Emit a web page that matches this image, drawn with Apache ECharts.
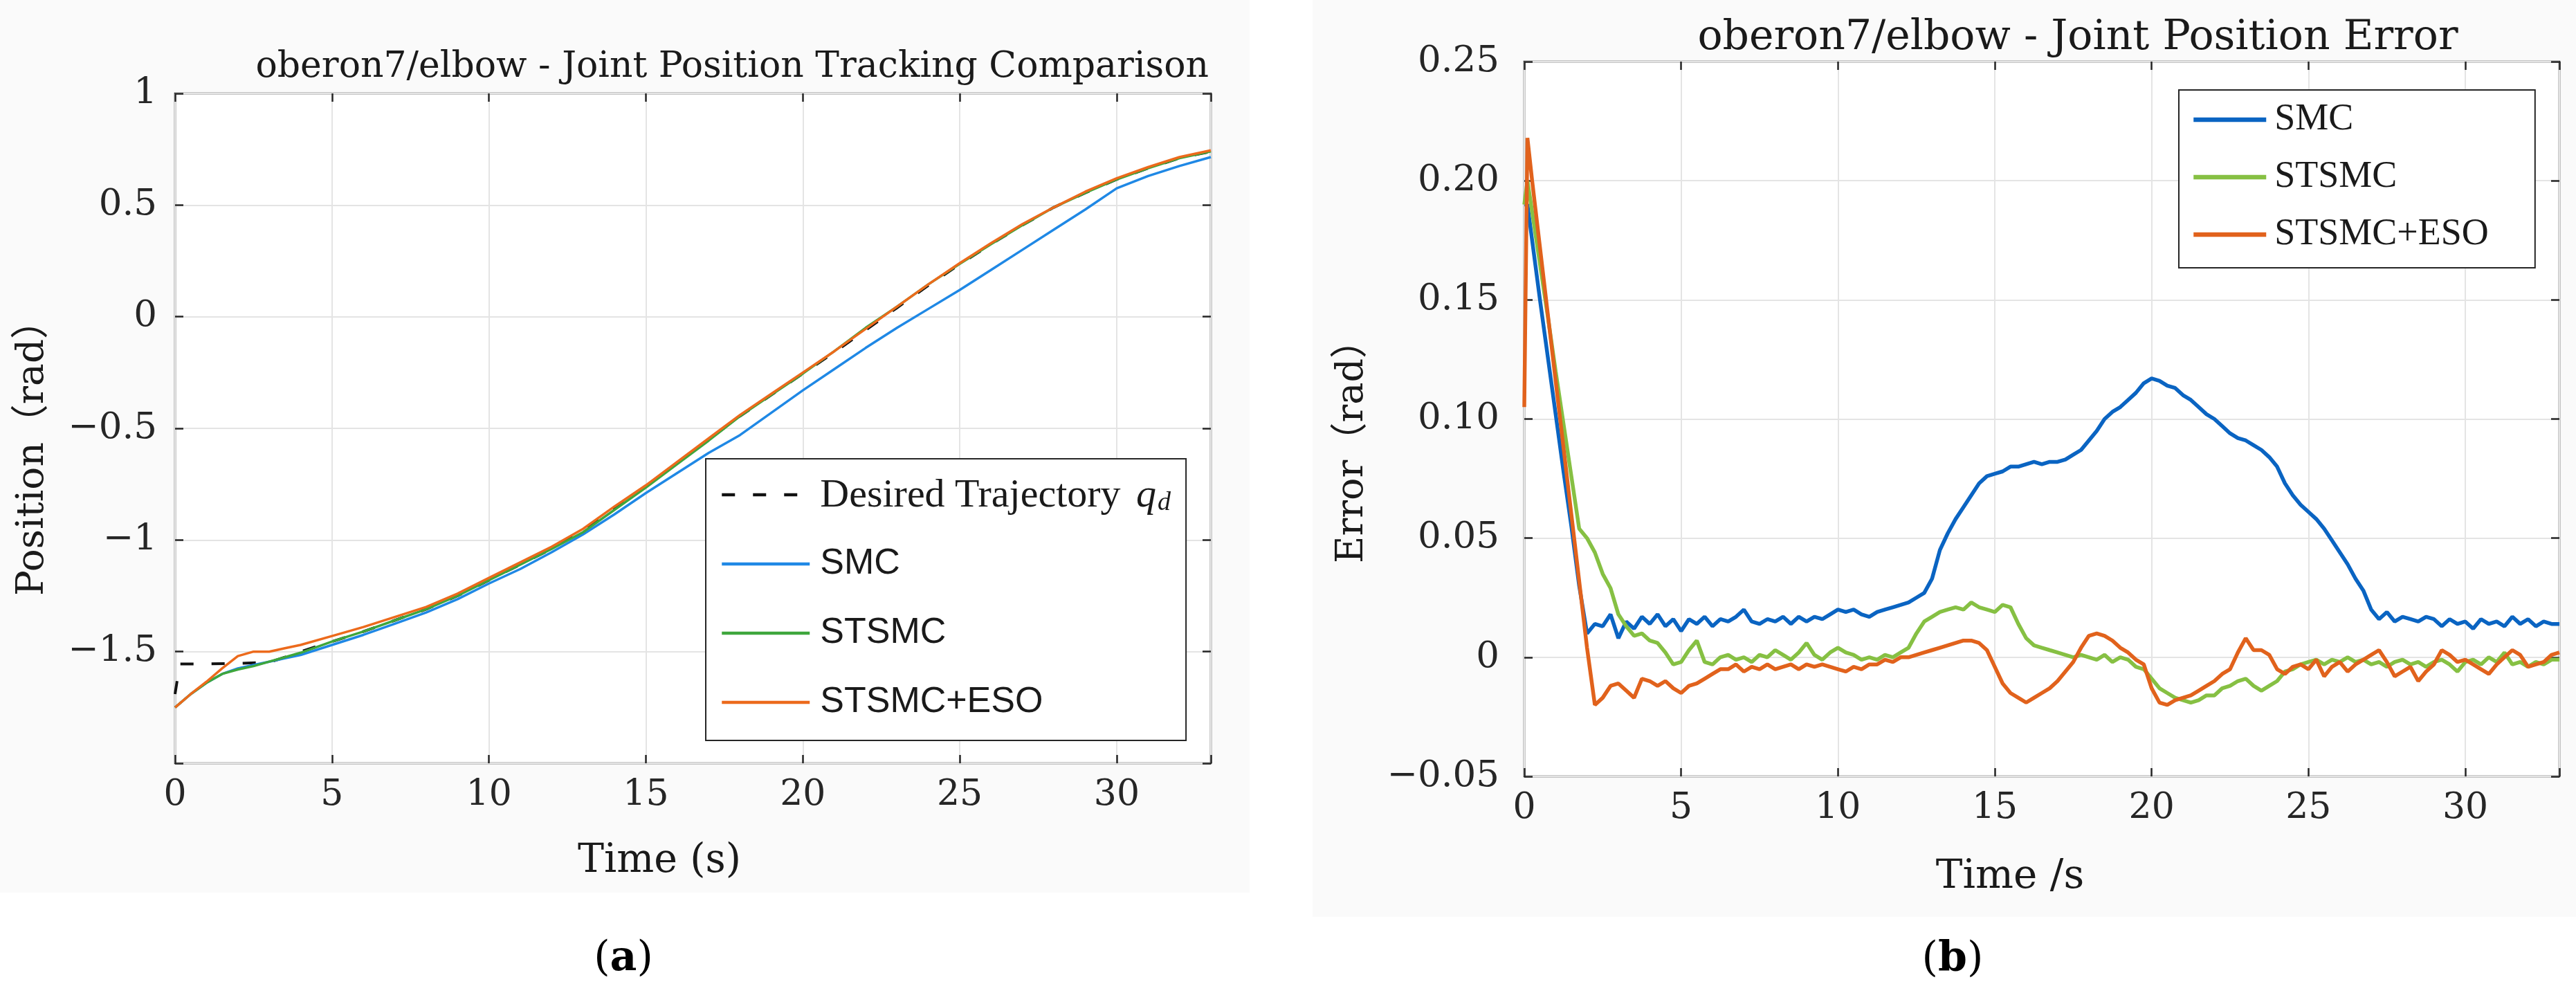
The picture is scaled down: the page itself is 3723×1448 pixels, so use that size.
<!DOCTYPE html>
<html>
<head>
<meta charset="utf-8">
<script src="https://cdn.jsdelivr.net/npm/echarts@6.0.0/dist/echarts.min.js"></script>
<style>
html, body { margin: 0; padding: 0; background: #fff; }
#main { width: 3723px; height: 1448px; }
</style>
</head>
<body>
<div id="main"></div>
<script>
// (a) joint position tracking
var posT = [0, 0.5, 1, 1.5, 2, 2.5, 3, 3.5, 4, 5, 6, 7, 8, 9, 10, 11, 12, 13, 14, 15, 16, 17, 18, 19, 20,
            21, 22, 23, 24, 25, 26, 27, 28, 29, 30, 31, 32, 33];
var desiredT = [0, 0.15, 1, 2, 3, 3.5, 4, 5, 6, 7, 8, 9, 10, 11, 12, 13, 14, 15, 16, 17, 18, 19, 20,
                21, 22, 23, 24, 25, 26, 27, 28, 29, 30, 31, 32, 33];
var desiredQ = [-1.69, -1.555, -1.555, -1.553, -1.548, -1.525, -1.50, -1.455, -1.41, -1.36, -1.31, -1.25, -1.18,
                -1.11, -1.04, -0.955, -0.855, -0.76, -0.655, -0.55, -0.445, -0.35, -0.255, -0.16, -0.06,
                0.04, 0.14, 0.235, 0.325, 0.41, 0.49, 0.555, 0.615, 0.665, 0.71, 0.74];
var smcQ = [-1.75, -1.69, -1.64, -1.60, -1.575, -1.56, -1.545, -1.53, -1.515, -1.47, -1.425, -1.375, -1.325,
            -1.265, -1.195, -1.13, -1.055, -0.975, -0.885, -0.79, -0.70, -0.61, -0.53, -0.43, -0.33,
            -0.235, -0.14, -0.05, 0.035, 0.12, 0.21, 0.30, 0.39, 0.48, 0.575, 0.63, 0.675, 0.715];
var stsmcQ = [-1.75, -1.69, -1.64, -1.60, -1.58, -1.565, -1.545, -1.525, -1.505, -1.455, -1.41, -1.36, -1.31,
              -1.25, -1.18, -1.11, -1.04, -0.965, -0.865, -0.765, -0.66, -0.555, -0.445, -0.35, -0.255,
              -0.155, -0.05, 0.045, 0.145, 0.237, 0.325, 0.41, 0.49, 0.555, 0.615, 0.665, 0.71, 0.74];
var esoQ = [-1.75, -1.69, -1.635, -1.575, -1.52, -1.50, -1.50, -1.485, -1.47, -1.43, -1.39, -1.345, -1.30,
            -1.24, -1.17, -1.10, -1.03, -0.95, -0.85, -0.755, -0.65, -0.545, -0.44, -0.345, -0.25,
            -0.155, -0.055, 0.045, 0.145, 0.24, 0.33, 0.415, 0.49, 0.56, 0.62, 0.67, 0.715, 0.745];

// (b) joint position error
var errT = [0, 0.1, 0.25, 0.5, 0.75,
  1, 1.25, 1.5, 1.75,  2, 2.25, 2.5, 2.75,  3, 3.25, 3.5, 3.75,  4, 4.25, 4.5, 4.75,
  5, 5.25, 5.5, 5.75,  6, 6.25, 6.5, 6.75,  7, 7.25, 7.5, 7.75,  8, 8.25, 8.5, 8.75,
  9, 9.25, 9.5, 9.75,  10, 10.25, 10.5, 10.75,  11, 11.25, 11.5, 11.75,  12, 12.25, 12.5, 12.75,
  13, 13.25, 13.5, 13.75,  14, 14.25, 14.5, 14.75,  15, 15.25, 15.5, 15.75,  16, 16.25, 16.5, 16.75,
  17, 17.25, 17.5, 17.75,  18, 18.25, 18.5, 18.75,  19, 19.25, 19.5, 19.75,  20, 20.25, 20.5, 20.75,
  21, 21.25, 21.5, 21.75,  22, 22.25, 22.5, 22.75,  23, 23.25, 23.5, 23.75,  24, 24.25, 24.5, 24.75,
  25, 25.25, 25.5, 25.75,  26, 26.25, 26.5, 26.75,  27, 27.25, 27.5, 27.75,  28, 28.25, 28.5, 28.75,
  29, 29.25, 29.5, 29.75,  30, 30.25, 30.5, 30.75,  31, 31.25, 31.5, 31.75,  32, 32.25, 32.5, 32.75,
  33];
var smcErr = [0.19, 0.19, 0.175, 0.15, 0.126,
  0.102, 0.078, 0.055, 0.030,  0.010, 0.014, 0.013, 0.018,  0.008, 0.015, 0.012, 0.017,  0.014, 0.018, 0.013, 0.016,
  0.011, 0.016, 0.014, 0.017,  0.013, 0.016, 0.015, 0.017,  0.020, 0.015, 0.014, 0.016,  0.015, 0.017, 0.014, 0.017,
  0.015, 0.017, 0.016, 0.018,  0.020, 0.019, 0.020, 0.018,  0.017, 0.019, 0.020, 0.021,  0.022, 0.023, 0.025, 0.027,
  0.033, 0.045, 0.052, 0.058,  0.063, 0.068, 0.073, 0.076,  0.077, 0.078, 0.080, 0.080,  0.081, 0.082, 0.081, 0.082,
  0.082, 0.083, 0.085, 0.087,  0.091, 0.095, 0.100, 0.103,  0.105, 0.108, 0.111, 0.115,  0.117, 0.116, 0.114, 0.113,
  0.110, 0.108, 0.105, 0.102,  0.100, 0.097, 0.094, 0.092,  0.091, 0.089, 0.087, 0.084,  0.080, 0.073, 0.068, 0.064,
  0.061, 0.058, 0.054, 0.049,  0.044, 0.039, 0.033, 0.028,  0.020, 0.016, 0.019, 0.015,  0.017, 0.016, 0.015, 0.017,
  0.016, 0.013, 0.016, 0.014,  0.015, 0.012, 0.016, 0.014,  0.015, 0.013, 0.017, 0.014,  0.016, 0.013, 0.015, 0.014,
  0.014];
var stsmcErr = [0.19, 0.20, 0.187, 0.165, 0.143,
  0.120, 0.098, 0.076, 0.054,  0.050, 0.044, 0.035, 0.029,  0.018, 0.013, 0.009, 0.010,  0.007, 0.006, 0.002, -0.003,
  -0.002, 0.003, 0.007, -0.002,  -0.003, 0.000, 0.001, -0.001,  0.000, -0.002, 0.001, 0.000,  0.003, 0.001, -0.001, 0.002,
  0.006, 0.001, -0.001, 0.002,  0.004, 0.002, 0.001, -0.001,  0.000, -0.001, 0.001, 0.000,  0.002, 0.004, 0.010, 0.015,
  0.017, 0.019, 0.020, 0.021,  0.020, 0.023, 0.021, 0.020,  0.019, 0.022, 0.021, 0.014,  0.008, 0.005, 0.004, 0.003,
  0.002, 0.001, 0.000, 0.001,  0.000, -0.001, 0.001, -0.002,  0.000, -0.001, -0.004, -0.005,  -0.009, -0.013, -0.015, -0.017,
  -0.018, -0.019, -0.018, -0.016,  -0.016, -0.013, -0.012, -0.010,  -0.009, -0.012, -0.014, -0.012,  -0.010, -0.006, -0.005, -0.003,
  -0.002, -0.001, -0.003, -0.001,  -0.002, 0.000, -0.002, -0.001,  -0.003, -0.002, -0.004, -0.002,  -0.001, -0.003, -0.002, -0.004,
  -0.002, -0.001, -0.003, -0.006,  -0.002, -0.001, -0.003, 0.000,  -0.002, 0.002, -0.003, -0.002,  -0.004, -0.002, -0.003, -0.001,
  -0.001];
var esoErr = [0.105, 0.218, 0.200, 0.172, 0.144,
  0.116, 0.088, 0.060, 0.032,  0.004, -0.020, -0.017, -0.012,  -0.011, -0.014, -0.017, -0.009,  -0.010, -0.012, -0.010, -0.013,
  -0.015, -0.012, -0.011, -0.009,  -0.007, -0.005, -0.005, -0.003,  -0.006, -0.004, -0.005, -0.003,  -0.005, -0.004, -0.003, -0.005,
  -0.003, -0.004, -0.003, -0.004,  -0.005, -0.006, -0.004, -0.005,  -0.003, -0.003, -0.001, -0.002,  0.000, 0.000, 0.001, 0.002,
  0.003, 0.004, 0.005, 0.006,  0.007, 0.007, 0.006, 0.003,  -0.004, -0.011, -0.015, -0.017,  -0.019, -0.017, -0.015, -0.013,
  -0.010, -0.006, -0.002, 0.004,  0.009, 0.010, 0.009, 0.007,  0.004, 0.002, -0.001, -0.003,  -0.013, -0.019, -0.020, -0.018,
  -0.017, -0.016, -0.014, -0.012,  -0.010, -0.007, -0.005, 0.002,  0.008, 0.003, 0.003, 0.001,  -0.005, -0.007, -0.004, -0.003,
  -0.005, -0.001, -0.008, -0.004,  -0.002, -0.006, -0.003, -0.001,  0.001, 0.003, -0.002, -0.008,  -0.006, -0.004, -0.010, -0.006,
  -0.003, 0.003, 0.001, -0.002,  -0.001, -0.003, -0.005, -0.007,  -0.003, 0.000, 0.003, 0.001,  -0.004, -0.003, -0.002, 0.001,
  0.002];

var SERIF = '"DejaVu Serif", serif';
var SERIF_CJK = '"DejaVu Serif", "Noto Sans CJK SC", serif';
var TIMES = '"Liberation Serif", serif';
var SANS = '"Liberation Sans", Arial, sans-serif';
var INK = '#262626';

function pairs(xs, ys) {
    return xs.map(function (x, i) { return [x, ys[i]]; });
}

function minus(s) {
    return String(s).replace('-', '\u2212');
}

function xAxes(grid, top) {
    return {
        gridIndex: grid, type: 'value', position: top ? 'top' : 'bottom',
        min: 0, max: 33, interval: 5,
        axisLine: { show: false, onZero: false },
        axisTick: { show: true, inside: true, length: 12, lineStyle: { color: INK, width: 2.5 } },
        axisLabel: {
            show: !top, margin: 20, fontFamily: SERIF, fontSize: 52, color: INK,
            formatter: function (v) { return v > 31 ? '' : String(v); }
        },
        splitLine: { show: !top, lineStyle: { color: '#e4e4e4', width: 2 } }
    };
}

function yAxes(grid, right, min, max, step, fmt, margin) {
    return {
        gridIndex: grid, type: 'value', position: right ? 'right' : 'left',
        min: min, max: max, interval: step,
        axisLine: { show: false, onZero: false },
        axisTick: { show: true, inside: true, length: 12, lineStyle: { color: INK, width: 2.5 } },
        axisLabel: { show: !right, margin: margin, fontFamily: SERIF, fontSize: 53, color: INK, formatter: fmt },
        splitLine: { show: !right, lineStyle: { color: '#e4e4e4', width: 2 } }
    };
}

var posFmt = function (v) { return v === -2 ? '' : minus(v); };
var errFmt = function (v) {
    if (Math.abs(v) < 1e-9) return '0';
    return (v < 0 ? '\u2212' : '') + Math.abs(v).toFixed(2);
};

var chart = echarts.init(document.getElementById('main'));

var option = {
    animation: false,
    backgroundColor: '#ffffff',
    grid: [
        { left: 253, top: 135, width: 1497, height: 968, show: true, backgroundColor: '#ffffff',
          borderColor: INK, borderWidth: 2.5 },
        { left: 2203, top: 89, width: 1496, height: 1033, show: true, backgroundColor: '#ffffff',
          borderColor: INK, borderWidth: 2.5 }
    ],
    xAxis: [xAxes(0, false), xAxes(0, true), xAxes(1, false), xAxes(1, true)],
    yAxis: [
        yAxes(0, false, -2, 1, 0.5, posFmt, 26),
        yAxes(0, true, -2, 1, 0.5, posFmt, 26),
        yAxes(1, false, -0.05, 0.25, 0.05, errFmt, 36),
        yAxes(1, true, -0.05, 0.25, 0.05, errFmt, 36)
    ],
    legend: [
        {
            orient: 'vertical', left: 1020, top: 663,
            data: ['Desired Trajectory', 'SMC', 'STSMC', 'STSMC+ESO'],
            itemWidth: 127, itemHeight: 4, itemGap: 38,
            padding: [21, 22, 24, 21],
            borderColor: INK, borderWidth: 2, backgroundColor: '#ffffff',
            selectedMode: false,
            itemStyle: { opacity: 0 },
            lineStyle: { width: 4.5 },
            formatter: function (name) {
                if (name === 'Desired Trajectory') return '{ser|Desired Trajectory }{q|q}{d|d}';
                return '{san|' + name + '}';
            },
            textStyle: {
                padding: [0, 0, 0, 10],
                lineHeight: 62,
                rich: {
                    ser: { fontFamily: TIMES, fontSize: 58, color: '#1a1a1a', lineHeight: 62, verticalAlign: 'bottom' },
                    q: { fontFamily: TIMES, fontStyle: 'italic', fontSize: 58, color: '#1a1a1a', lineHeight: 62,
                         verticalAlign: 'bottom', padding: [0, 0, 0, 8] },
                    d: { fontFamily: TIMES, fontStyle: 'italic', fontSize: 38, color: '#1a1a1a', lineHeight: 14,
                         verticalAlign: 'bottom', padding: [0, 0, 0, 2] },
                    san: { fontFamily: SANS, fontSize: 52, color: '#1a1a1a', lineHeight: 62 }
                }
            }
        },
        {
            orient: 'vertical', left: 3149, top: 130,
            data: ['SMC (b)', 'STSMC (b)', 'STSMC+ESO (b)'],
            itemWidth: 105, itemHeight: 4, itemGap: 21,
            padding: [12, 67, 17, 18],
            borderColor: INK, borderWidth: 2, backgroundColor: '#ffffff',
            selectedMode: false,
            itemStyle: { opacity: 0 },
            lineStyle: { width: 6.5 },
            formatter: function (name) { return name.replace(' (b)', ''); },
            textStyle: { fontFamily: TIMES, fontSize: 54, color: '#1a1a1a', lineHeight: 62, padding: [0, 0, 0, 7] }
        }
    ],
    graphic: [
        { type: 'rect', z: -1, shape: { x: 0, y: 0, width: 1806, height: 1290 }, style: { fill: '#fafafa' } },
        { type: 'rect', z: -1, shape: { x: 1897, y: 0, width: 1826, height: 1325 }, style: { fill: '#fafafa' } },
        { type: 'text', x: 1747, y: 97, style: { text: 'oberon7/elbow - Joint Position Tracking Comparison',
            font: '52px ' + SERIF, fill: '#1a1a1a', align: 'right', verticalAlign: 'middle' } },
        { type: 'text', x: 3003, y: 55, style: { text: 'oberon7/elbow - Joint Position Error',
            font: '60px ' + SERIF, fill: '#1a1a1a', align: 'center', verticalAlign: 'middle' } },
        { type: 'text', x: 48, y: 648, rotation: Math.PI / 2, style: { text: 'Position\uff08rad\uff09',
            font: '55px ' + SERIF_CJK, fill: '#1a1a1a', align: 'center', verticalAlign: 'middle' } },
        { type: 'text', x: 1955, y: 639, rotation: Math.PI / 2, style: { text: 'Error\uff08rad\uff09',
            font: '54px ' + SERIF_CJK, fill: '#1a1a1a', align: 'center', verticalAlign: 'middle' } },
        { type: 'text', x: 953, y: 1245, style: { text: 'Time (s)',
            font: '57px ' + SERIF, fill: '#1a1a1a', align: 'center', verticalAlign: 'middle' } },
        { type: 'text', x: 2905, y: 1268, style: { text: 'Time /s',
            font: '58px ' + SERIF, fill: '#1a1a1a', align: 'center', verticalAlign: 'middle' } },
        { type: 'text', x: 901, y: 1386, style: { text: '({b|a})',
            font: '60px ' + SERIF, fill: '#000', align: 'center', verticalAlign: 'middle',
            rich: { b: { fontFamily: SERIF, fontSize: 60, fontWeight: 'bold', fill: '#000' } } } },
        { type: 'text', x: 2822, y: 1387, style: { text: '({b|b})',
            font: '60px ' + SERIF, fill: '#000', align: 'center', verticalAlign: 'middle',
            rich: { b: { fontFamily: SERIF, fontSize: 60, fontWeight: 'bold', fill: '#000' } } } }
    ],
    series: [
        { name: 'Desired Trajectory', type: 'line', xAxisIndex: 0, yAxisIndex: 0, data: pairs(desiredT, desiredQ),
          symbol: 'none', lineStyle: { color: '#111111', width: 4, type: [19, 26] }, itemStyle: { color: '#111111' } },
        { name: 'SMC', type: 'line', xAxisIndex: 0, yAxisIndex: 0, data: pairs(posT, smcQ),
          symbol: 'none', lineStyle: { color: '#1f88e5', width: 3.5 }, itemStyle: { color: '#1f88e5' } },
        { name: 'STSMC', type: 'line', xAxisIndex: 0, yAxisIndex: 0, data: pairs(posT, stsmcQ),
          symbol: 'none', lineStyle: { color: '#3ea63c', width: 3.5 }, itemStyle: { color: '#3ea63c' } },
        { name: 'STSMC+ESO', type: 'line', xAxisIndex: 0, yAxisIndex: 0, data: pairs(posT, esoQ),
          symbol: 'none', lineStyle: { color: '#ec6a1c', width: 3.5 }, itemStyle: { color: '#ec6a1c' } },

        { name: 'SMC (b)', type: 'line', xAxisIndex: 2, yAxisIndex: 2, data: pairs(errT, smcErr),
          symbol: 'none', lineStyle: { color: '#0a64c2', width: 5.5 }, itemStyle: { color: '#0a64c2' } },
        { name: 'STSMC (b)', type: 'line', xAxisIndex: 2, yAxisIndex: 2, data: pairs(errT, stsmcErr),
          symbol: 'none', lineStyle: { color: '#86c043', width: 5.5 }, itemStyle: { color: '#86c043' } },
        { name: 'STSMC+ESO (b)', type: 'line', xAxisIndex: 2, yAxisIndex: 2, data: pairs(errT, esoErr),
          symbol: 'none', lineStyle: { color: '#e1621c', width: 5.5 }, itemStyle: { color: '#e1621c' } }
    ]
};

chart.setOption(option);
</script>
</body>
</html>
